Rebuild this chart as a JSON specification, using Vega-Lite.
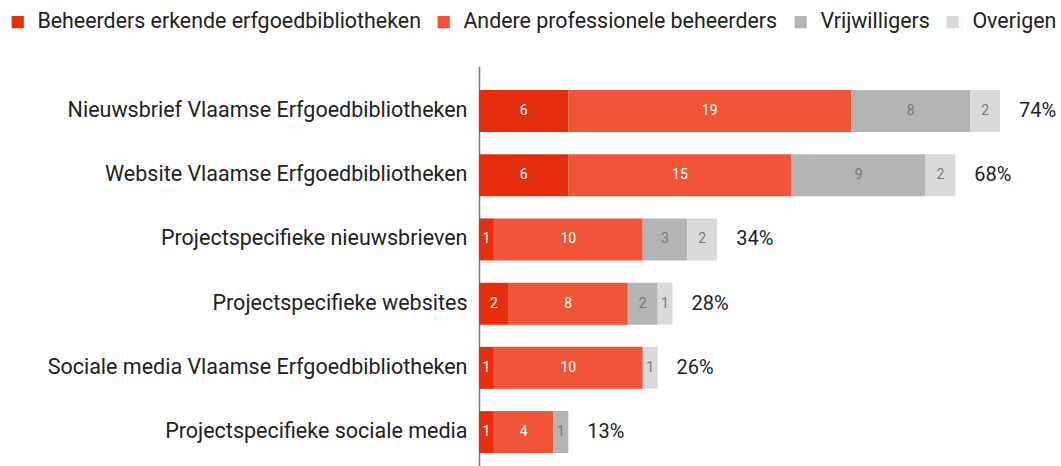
{
  "$schema": "https://vega.github.io/schema/vega-lite/v6.json",
  "autosize": {"type": "none"},
  "padding": {"left": 479, "top": 66, "right": 0, "bottom": 0},
  "width": 582,
  "height": 400,
  "background": "white",
  "config": {"view": {"stroke": null}, "font": "Roboto"},
  "datasets": {
    "segs": [
      {"category": "Nieuwsbrief Vlaamse Erfgoedbibliotheken", "series": "Beheerders erkende erfgoedbibliotheken", "rank": 1, "value": 6},
      {"category": "Nieuwsbrief Vlaamse Erfgoedbibliotheken", "series": "Andere professionele beheerders", "rank": 2, "value": 19},
      {"category": "Nieuwsbrief Vlaamse Erfgoedbibliotheken", "series": "Vrijwilligers", "rank": 3, "value": 8},
      {"category": "Nieuwsbrief Vlaamse Erfgoedbibliotheken", "series": "Overigen", "rank": 4, "value": 2},
      {"category": "Website Vlaamse Erfgoedbibliotheken", "series": "Beheerders erkende erfgoedbibliotheken", "rank": 1, "value": 6},
      {"category": "Website Vlaamse Erfgoedbibliotheken", "series": "Andere professionele beheerders", "rank": 2, "value": 15},
      {"category": "Website Vlaamse Erfgoedbibliotheken", "series": "Vrijwilligers", "rank": 3, "value": 9},
      {"category": "Website Vlaamse Erfgoedbibliotheken", "series": "Overigen", "rank": 4, "value": 2},
      {"category": "Projectspecifieke nieuwsbrieven", "series": "Beheerders erkende erfgoedbibliotheken", "rank": 1, "value": 1},
      {"category": "Projectspecifieke nieuwsbrieven", "series": "Andere professionele beheerders", "rank": 2, "value": 10},
      {"category": "Projectspecifieke nieuwsbrieven", "series": "Vrijwilligers", "rank": 3, "value": 3},
      {"category": "Projectspecifieke nieuwsbrieven", "series": "Overigen", "rank": 4, "value": 2},
      {"category": "Projectspecifieke websites", "series": "Beheerders erkende erfgoedbibliotheken", "rank": 1, "value": 2},
      {"category": "Projectspecifieke websites", "series": "Andere professionele beheerders", "rank": 2, "value": 8},
      {"category": "Projectspecifieke websites", "series": "Vrijwilligers", "rank": 3, "value": 2},
      {"category": "Projectspecifieke websites", "series": "Overigen", "rank": 4, "value": 1},
      {"category": "Sociale media Vlaamse Erfgoedbibliotheken", "series": "Beheerders erkende erfgoedbibliotheken", "rank": 1, "value": 1},
      {"category": "Sociale media Vlaamse Erfgoedbibliotheken", "series": "Andere professionele beheerders", "rank": 2, "value": 10},
      {"category": "Sociale media Vlaamse Erfgoedbibliotheken", "series": "Overigen", "rank": 4, "value": 1},
      {"category": "Projectspecifieke sociale media", "series": "Beheerders erkende erfgoedbibliotheken", "rank": 1, "value": 1},
      {"category": "Projectspecifieke sociale media", "series": "Andere professionele beheerders", "rank": 2, "value": 4},
      {"category": "Projectspecifieke sociale media", "series": "Vrijwilligers", "rank": 3, "value": 1}
    ],
    "totals": [
      {"category": "Nieuwsbrief Vlaamse Erfgoedbibliotheken", "total": 35, "pct": "74%"},
      {"category": "Website Vlaamse Erfgoedbibliotheken", "total": 32, "pct": "68%"},
      {"category": "Projectspecifieke nieuwsbrieven", "total": 16, "pct": "34%"},
      {"category": "Projectspecifieke websites", "total": 13, "pct": "28%"},
      {"category": "Sociale media Vlaamse Erfgoedbibliotheken", "total": 12, "pct": "26%"},
      {"category": "Projectspecifieke sociale media", "total": 6, "pct": "13%"}
    ]
  },
  "encoding": {
    "y": {
      "field": "category",
      "type": "nominal",
      "sort": ["Nieuwsbrief Vlaamse Erfgoedbibliotheken", "Website Vlaamse Erfgoedbibliotheken", "Projectspecifieke nieuwsbrieven", "Projectspecifieke websites", "Sociale media Vlaamse Erfgoedbibliotheken", "Projectspecifieke sociale media"],
      "scale": {"paddingInner": 0.346, "paddingOuter": 0.288, "align": 0.65},
      "axis": {
        "title": null,
        "ticks": false,
        "grid": false,
        "domain": true,
        "domainColor": "#7a7a7a",
        "domainWidth": 1.5,
        "labelFontSize": 21.5,
        "labelColor": "#222222",
        "labelPadding": 12,
        "labelFont": "Roboto",
        "labelLimit": 0
      }
    }
  },
  "layer": [
    {
      "data": {"name": "segs"},
      "transform": [
        {"stack": "value", "groupby": ["category"], "sort": [{"field": "rank", "order": "ascending"}], "as": ["x0", "x1"]},
        {"calculate": "(datum.x0 + datum.x1) / 2", "as": "xmid"}
      ],
      "layer": [
        {
          "mark": {"type": "bar"},
          "encoding": {
            "x": {"field": "x0", "type": "quantitative", "scale": {"domain": [0, 39.1], "nice": false, "zero": true}, "axis": null},
            "x2": {"field": "x1"},
            "color": {
              "field": "series",
              "type": "nominal",
              "scale": {
                "domain": ["Beheerders erkende erfgoedbibliotheken", "Andere professionele beheerders", "Vrijwilligers", "Overigen"],
                "range": ["#e52f0c", "#f05537", "#b4b4b4", "#dadada"]
              },
              "legend": {
                "title": null,
                "orient": "none",
                "direction": "horizontal",
                "legendX": -472,
                "legendY": -55,
                "symbolType": "square",
                "symbolSize": 150,
                "symbolStrokeWidth": 0,
                "labelFontSize": 21.4,
                "labelFont": "Roboto",
                "labelColor": "#222222",
                "labelOffset": 9,
                "columnPadding": 12,
                "labelLimit": 0
              }
            }
          }
        },
        {
          "transform": [{"filter": "datum.rank <= 2"}],
          "mark": {"type": "text", "fontSize": 14, "color": "white", "font": "Roboto", "baseline": "middle", "align": "center"},
          "encoding": {
            "x": {"field": "xmid", "type": "quantitative"},
            "text": {"field": "value", "type": "quantitative"}
          }
        },
        {
          "transform": [{"filter": "datum.rank > 2"}],
          "mark": {"type": "text", "fontSize": 14, "color": "#777777", "font": "Roboto", "baseline": "middle", "align": "center"},
          "encoding": {
            "x": {"field": "xmid", "type": "quantitative"},
            "text": {"field": "value", "type": "quantitative"}
          }
        }
      ]
    },
    {
      "data": {"name": "totals"},
      "mark": {"type": "text", "fontSize": 20, "align": "left", "dx": 19, "color": "#222222", "font": "Roboto", "baseline": "middle"},
      "encoding": {
        "x": {"field": "total", "type": "quantitative"},
        "text": {"field": "pct"}
      }
    }
  ]
}
